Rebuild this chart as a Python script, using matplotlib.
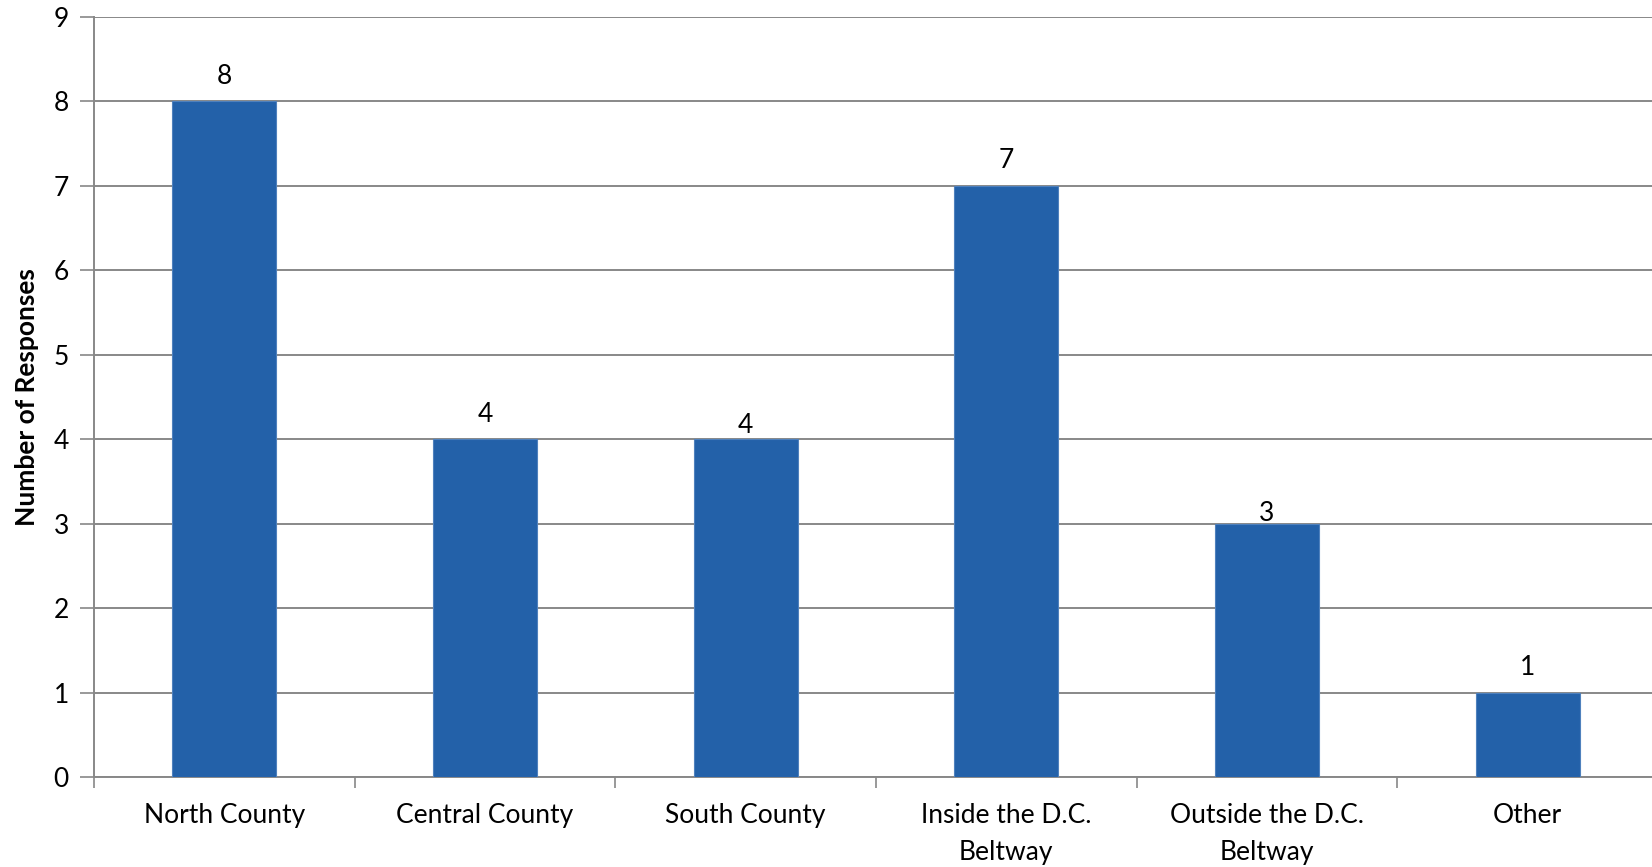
import matplotlib.pyplot as plt
import numpy as np

categories = ['North County', 'Central County', 'South County',
              'Inside the D.C.\nBeltway', 'Outside the D.C.\nBeltway', 'Other']
responses = [8, 4, 4, 7, 3, 1]
label_offsets = [9, 9, 1, 9, -2, 9]  # points above bar top, as in original

plt.rcParams['font.family'] = ['Lato', 'DejaVu Sans']

fig = plt.figure(figsize=(16.52, 8.67), dpi=100)
ax = fig.add_axes([94 / 1652, 1 - 777 / 867, (1658 - 94) / 1652, (777 - 17) / 867])

x = np.arange(len(categories))
bars = ax.bar(x, responses, width=0.40, color='#2361A9', edgecolor='#4F81BD',
              linewidth=0.8, zorder=3)

for xi, v, off in zip(x, responses, label_offsets):
    ax.annotate(str(v), (xi, v), xytext=(0, off), textcoords='offset points',
                ha='center', va='bottom', fontsize=19, zorder=4)

ax.set_xlim(-0.5, len(categories) - 0.5)
ax.set_ylim(0, 9)
ax.set_yticks(range(0, 10))
ax.tick_params(axis='y', labelsize=19, length=10, width=1.2, color='#888888', pad=8)

ax.set_xticks(x)
ax.set_xticklabels(categories, fontsize=19, linespacing=1.58)
ax.set_xticks(np.arange(-0.5, len(categories)), minor=True)
ax.tick_params(axis='x', which='major', length=0, pad=19)
ax.tick_params(axis='x', which='minor', length=8, width=1.2, color='#888888')

ax.yaxis.grid(True, color='#888888', linewidth=1.4, zorder=0)
for s in ['top', 'right']:
    ax.spines[s].set_visible(False)
ax.spines['left'].set_color('#888888')
ax.spines['left'].set_linewidth(1.4)
ax.spines['bottom'].set_color('#888888')
ax.spines['bottom'].set_linewidth(1.4)

fig.text(27 / 1652, 1 - 397 / 867, 'Number of Responses', rotation=90,
         ha='center', va='center', fontsize=19, fontweight='bold')

fig.savefig('out.png', dpi=100)
